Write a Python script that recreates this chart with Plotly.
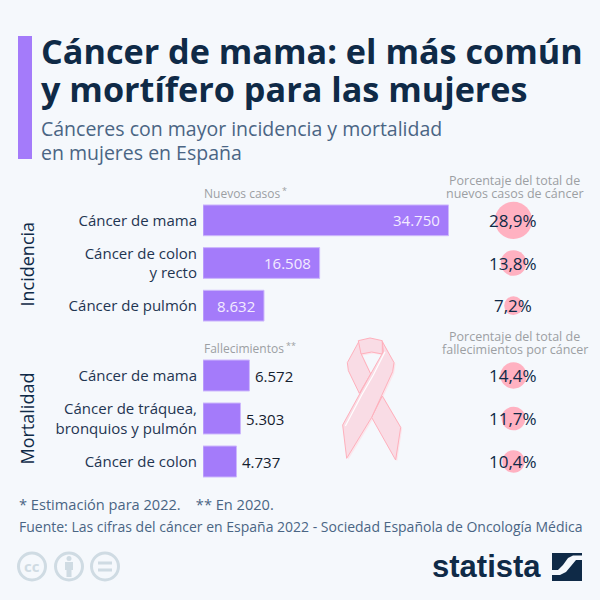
import plotly.graph_objects as go

# ---- data ----
inc_cats = ["Cáncer de mama", "Cáncer de colon<br>y recto", "Cáncer de pulmón"]
inc_vals = [34750, 16508, 8632]
inc_pct = [28.9, 13.8, 7.2]
mor_cats = ["Cáncer de mama", "Cáncer de tráquea,<br>bronquios y pulmón", "Cáncer de colon"]
mor_vals = [6572, 5303, 4737]
mor_pct = [14.4, 11.7, 10.4]

TITLE = ["Cáncer de mama: el más común", "y mortífero para las mujeres"]
SUBTITLE = ["Cánceres con mayor incidencia y mortalidad", "en mujeres en España"]
FOOT1 = "* Estimación para 2022.    ** En 2020."
FOOT2 = "Fuente: Las cifras del cáncer en España 2022 - Sociedad Española de Oncología Médica"

BG = "#f5f8fc"
NAVY = "#0f2a47"
SLATE = "#1f3552"
BLUE = "#4a6584"
GREY = "#9c9fa3"
PURPLE = "#a47bfa"
PINK = "#ffb1c1"
ICON = "#cfdbe3"
FONT = "Open Sans"
W = H = 600.0


def X(p):
    return p / W


def Y(p):
    return 1 - p / H


def es(v):
    return f"{v:,}".replace(",", ".")


def pct(v):
    return f"{v:.1f}%".replace(".", ",")


def path(points, close=True):
    d = "M " + " L ".join(f"{X(x):.4f},{Y(y):.4f}" for x, y in points)
    return d + (" Z" if close else "")


fig = go.Figure()
bar_style = dict(orientation="h", marker=dict(color=PURPLE, line=dict(color="#cdb9fc", width=1)),
                 hoverinfo="skip", showlegend=False)
fig.add_bar(x=inc_vals, y=inc_cats, xaxis="x", yaxis="y", **bar_style)
fig.add_bar(x=mor_vals, y=mor_cats, xaxis="x", yaxis="y2", **bar_style)

ann = []

for cats, pcts, ya in ((inc_cats, inc_pct, "y"), (mor_cats, mor_pct, "y2")):
    fig.add_scatter(
        x=["%"] * 3, y=cats, xaxis="x2", yaxis=ya, mode="markers",
        marker=dict(size=pcts, sizemode="area", sizeref=1 / 24, color=PINK, opacity=1, line=dict(width=0)),
        hoverinfo="skip", showlegend=False)
    for c, p in zip(cats, pcts):
        ann.append(dict(xref="x2", yref=ya, x="%", y=c, text=pct(p), showarrow=False,
                        font=dict(family=FONT, size=17, color=NAVY)))


def label(x, y, text, size, color, xanchor="left", yanchor="middle", family=FONT, **kw):
    ann.append(dict(xref="paper", yref="paper", x=X(x), y=Y(y), text=text, showarrow=False,
                    xanchor=xanchor, yanchor=yanchor, align=kw.pop("align", xanchor),
                    font=dict(family=family, size=size, color=color), borderpad=0, **kw))


for cats, vals, ya in ((inc_cats, inc_vals, "y"), (mor_cats, mor_vals, "y2")):
    for c, v in zip(cats, vals):
        inside = ya == "y"
        ann.append(dict(xref="x", yref=ya, x=v, y=c, text=es(v), showarrow=False,
                        xanchor="right" if inside else "left", xshift=-7 if inside else 4,
                        font=dict(family=FONT, size=15, color="#f3ecff" if inside else "#14202e")))

label(40, 50, f"<b>{TITLE[0]}</b>", 34.2, NAVY)
label(40, 89, f"<b>{TITLE[1]}</b>", 34.2, NAVY)
label(40, 129, SUBTITLE[0], 19.5, BLUE)
label(40, 152, SUBTITLE[1], 19.5, BLUE)
label(203, 193, "Nuevos casos", 12, GREY)
label(281, 190, "*", 9, GREY)
label(203, 348, "Fallecimientos", 12, GREY)
label(285, 345, "**", 9, GREY)
label(514.5, 180.5, "Porcentaje del total de", 12.5, GREY, xanchor="center")
label(514.5, 193, "nuevos casos de cáncer", 12.5, GREY, xanchor="center")
label(514.5, 336, "Porcentaje del total de", 12.5, GREY, xanchor="center")
label(514.5, 349, "fallecimientos por cáncer", 12.5, GREY, xanchor="center")
label(26.5, 264, "Incidencia", 18, NAVY, xanchor="center", textangle=-90)
label(26.5, 419, "Mortalidad", 18, NAVY, xanchor="center", textangle=-90)
label(18, 504, FOOT1, 14.6, BLUE)
label(18, 526, FOOT2, 14, BLUE)

# Statista word mark and licence glyphs
label(542, 566, "<b>statista</b>", 31, NAVY, xanchor="right", family="Liberation Sans")
label(32, 566, "<b>cc</b>", 15, ICON, xanchor="center")

shapes = [dict(type="rect", xref="paper", yref="paper", x0=X(18), x1=X(32), y0=Y(36), y1=Y(159),
               fillcolor=PURPLE, line=dict(width=0))]


def rect(x0, x1, y0, y1, color):
    shapes.append(dict(type="rect", xref="paper", yref="paper", x0=X(x0), x1=X(x1), y0=Y(y0), y1=Y(y1),
                       fillcolor=color, line=dict(width=0)))


# licence circles
for cx in (32, 69, 105):
    shapes.append(dict(type="circle", xref="paper", yref="paper", x0=X(cx - 13.5), x1=X(cx + 13.5),
                       y0=Y(566.5 - 13.5), y1=Y(566.5 + 13.5), line=dict(color=ICON, width=3)))
shapes.append(dict(type="circle", xref="paper", yref="paper", x0=X(66.5), x1=X(71.5), y0=Y(556), y1=Y(561),
                   fillcolor=ICON, line=dict(width=0)))
rect(65, 73, 562, 570, ICON)
rect(66.5, 71.5, 570, 577, ICON)
rect(98, 112, 561.5, 564.5, ICON)
rect(98, 112, 568.5, 571.5, ICON)

# statista icon
rect(552, 582, 553, 581, NAVY)
shapes.append(dict(type="path", xref="paper", yref="paper",
                   path=path([(552, 570), (558, 570), (563, 565), (568, 558), (573, 555.5), (582, 555.5),
                              (582, 560), (576, 560), (571, 566), (566, 572), (560, 575), (552, 575)]),
                   fillcolor=BG, line=dict(width=0)))


# ribbon: polygons in reference zoom space
def rib(points):
    return [(330 + x / 3, 330 + y / 3) for x, y in points]


back_l = rib([(88, 32), (52, 98), (55, 122), (88, 190), (122, 132), (95, 75)])
back_r = rib([(157, 198), (212, 292), (197, 390), (125, 262)])
top = rib([(85, 32), (120, 24), (157, 32), (157, 72), (125, 66), (93, 72)])
front = rib([(157, 35), (192, 98), (188, 125), (125, 262), (50, 385), (38, 285), (90, 190), (122, 132), (160, 65)])
highlight = rib([(46, 288), (95, 195), (130, 135), (165, 65)])
for poly in (back_l, back_r, top, front):
    shadow = [(x + 1.5, y + 1.5) for x, y in poly]
    shapes.append(dict(type="path", xref="paper", yref="paper", path=path(shadow),
                       fillcolor="#fbe6ec", line=dict(width=0)))
for poly in (back_l, back_r, top, front):
    shapes.append(dict(type="path", xref="paper", yref="paper", path=path(poly),
                       fillcolor="#f9dce5", line=dict(color="#ffb0bc", width=1)))
shapes.append(dict(type="path", xref="paper", yref="paper", path=path(highlight, close=False),
                   line=dict(color="#ffffff", width=1.2)))

tick_font = dict(family=FONT, size=15, color=SLATE)
y_common = dict(type="category", range=[2.5, -0.5], showgrid=False, zeroline=False, showline=False,
                ticks="outside", ticklen=2, tickcolor="rgba(0,0,0,0)", tickfont=tick_font, anchor="x")
fig.update_layout(
    width=600, height=600, margin=dict(l=0, r=0, t=0, b=0), autosize=False,
    paper_bgcolor=BG, plot_bgcolor="rgba(0,0,0,0)",
    bargap=0.279,
    xaxis=dict(domain=[X(203), 1], range=[0, 397 / 0.007065], visible=False, anchor="y"),
    xaxis2=dict(domain=[0.8058, 0.9058], type="category", visible=False, anchor="y"),
    yaxis=dict(domain=[Y(327), Y(199)], **y_common),
    yaxis2=dict(domain=[Y(483), Y(354)], **y_common),
    annotations=ann, shapes=shapes,
)
fig.write_html("out.html", config=dict(displayModeBar=False),
               post_script="document.body.style.margin='0';document.documentElement.style.overflow='hidden';")
